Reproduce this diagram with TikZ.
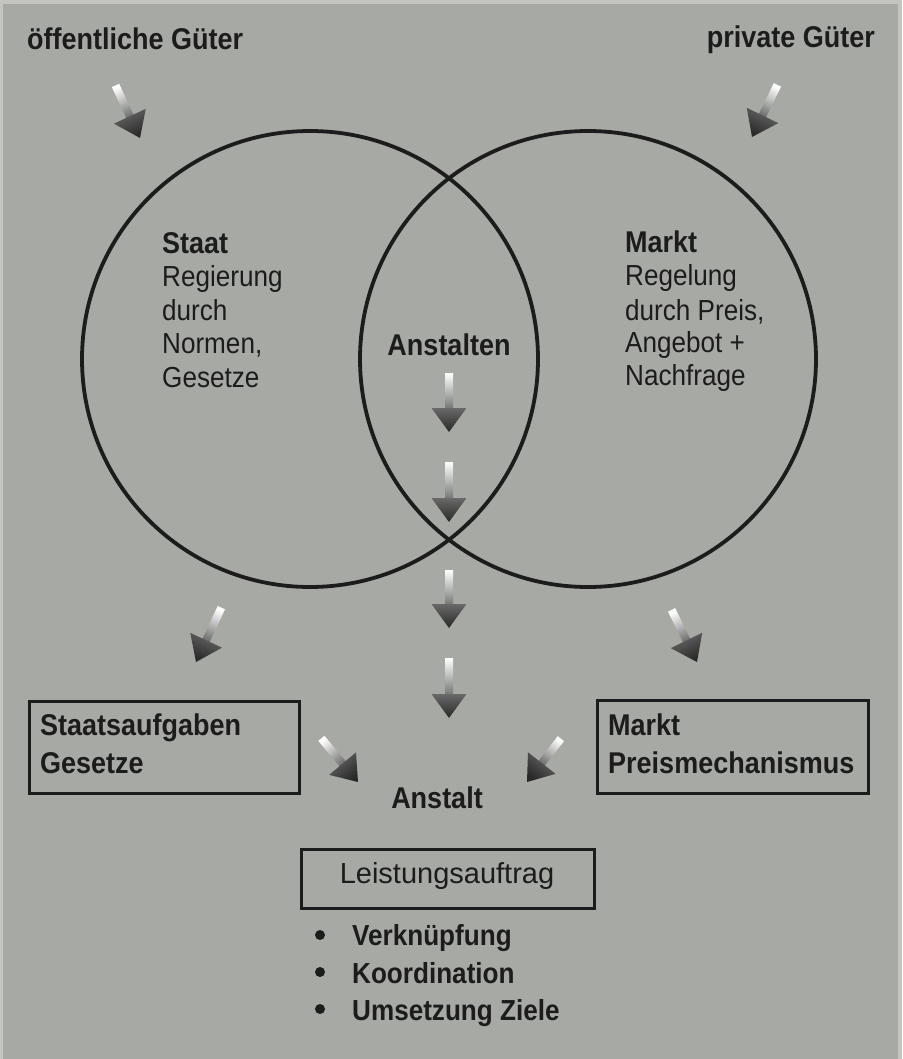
\documentclass[tikz,border=0pt]{standalone}
\usepackage{fontspec}
\setmainfont{Liberation Sans}[FakeStretch=0.9]
\newfontfamily\widefont{Liberation Sans}
\definecolor{bg}{RGB}{167,169,164}
\definecolor{edge}{RGB}{196,197,193}
\definecolor{ink}{RGB}{28,28,28}
\definecolor{shaftend}{RGB}{112,112,112}
\definecolor{headlight}{RGB}{105,105,105}
\definecolor{headdark}{RGB}{40,40,40}
\newcommand{\garrow}[3]{%
  \pgfmathsetmacro{\gang}{#2-90}%
  \begin{scope}[shift={(#1)}, rotate=#2]
    \shade[top color=shaftend, bottom color=white, shading angle=\gang]
      (-#3,-4) -- (-22,-4) -- (-22,4) -- (-#3,4) -- cycle;
    \shade[top color=headdark, bottom color=headlight, shading angle=\gang]
      (-24,-17.5) -- (0,0) -- (-24,17.5) -- cycle;
  \end{scope}}
\tikzset{
  circ/.style={circle, draw=ink, line width=3.8pt, minimum size=456pt, inner sep=0pt},
  txt/.style={anchor=base west, inner sep=0pt, text=ink},
  ttl/.style={font=\fontsize{30}{36}\selectfont\bfseries},
  reg/.style={font=\fontsize{29}{35}\selectfont},
  itm/.style={font=\fontsize{29}{35}\selectfont\bfseries},
  box/.style={draw=ink, line width=2.6pt, inner sep=0pt, anchor=north west},
  dot/.style={circle, fill=ink, minimum size=10pt, inner sep=0pt}
}
\begin{document}
\begin{tikzpicture}[x=1pt,y=1pt]
\fill[edge] (0,0) rectangle (902,-1059);
\fill[bg] (3,-4) rectangle (898,-1059);
\useasboundingbox (0,0) rectangle (902,-1059);

% circles
\node[circ] (staat) at (310,-359) {};
\node[circ] (markt) at (588,-359) {};

% titles
\node[txt, ttl] (oeff) at (27,-50) {öffentliche Güter};
\node[txt, ttl, anchor=base east] (priv) at (875,-48) {private Güter};

% Staat
\node[txt, ttl] (staatT) at (162,-253) {Staat};
\node[txt, reg] (s1) at (162,-286) {Regierung};
\node[txt, reg] (s2) at (162,-320) {durch};
\node[txt, reg] (s3) at (162,-353) {Normen,};
\node[txt, reg] (s4) at (162,-387) {Gesetze};

% Markt
\node[txt, ttl] (marktT) at (625,-252) {Markt};
\node[txt, reg] (m1) at (625,-285) {Regelung};
\node[txt, reg] (m2) at (625,-320) {durch Preis,};
\node[txt, reg] (m3) at (625,-352) {Angebot +};
\node[txt, reg] (m4) at (625,-385) {Nachfrage};

% Anstalten
\node[txt, ttl, anchor=base] (anstalten) at (449,-355) {Anstalten};

% boxes
\node[box, minimum width=270pt, minimum height=92pt] (sbox) at (28,-700) {};
\node[txt, ttl] (sb1) at (40,-735) {Staatsaufgaben};
\node[txt, ttl] (sb2) at (40,-773) {Gesetze};

\node[box, minimum width=271pt, minimum height=93pt] (mbox) at (596,-699) {};
\node[txt, ttl] (mb1) at (608,-735) {Markt};
\node[txt, ttl] (mb2) at (608,-773) {Preismechanismus};

\node[txt, ttl, anchor=base] (anstalt) at (437,-808) {Anstalt};

\node[box, minimum width=293pt, minimum height=59pt] (lbox) at (300,-848) {};
\node[txt, anchor=base, font=\widefont\fontsize{29}{35}\selectfont] (lt) at (447,-883) {Leistungsauftrag};

% bullets
\node[dot] (b1) at (320,-935) {};
\node[dot] (b2) at (320,-972) {};
\node[dot] (b3) at (320,-1009) {};
\node[txt, itm] (i1) at (352,-945) {Verknüpfung};
\node[txt, itm] (i2) at (352,-983) {Koordination};
\node[txt, itm] (i3) at (352,-1020) {Umsetzung Ziele};

% arrow tips
\coordinate (t1) at (140,-138);
\coordinate (t2) at (752,-137);
\coordinate (t3) at (449,-432);
\coordinate (t4) at (449,-522);
\coordinate (t5) at (449,-628);
\coordinate (t6) at (449,-718);
\coordinate (t7) at (196,-662);
\coordinate (t8) at (697,-662);
\coordinate (t9) at (358,-782);
\coordinate (t10) at (527,-782);

\garrow{t1}{-65}{58}
\garrow{t2}{-116}{58}
\garrow{t3}{-90}{59}
\garrow{t4}{-90}{60}
\garrow{t5}{-90}{58}
\garrow{t6}{-90}{60}
\garrow{t7}{-115}{60}
\garrow{t8}{-64}{58}
\garrow{t9}{-50}{57}
\garrow{t10}{-128}{55}
\end{tikzpicture}
\end{document}
